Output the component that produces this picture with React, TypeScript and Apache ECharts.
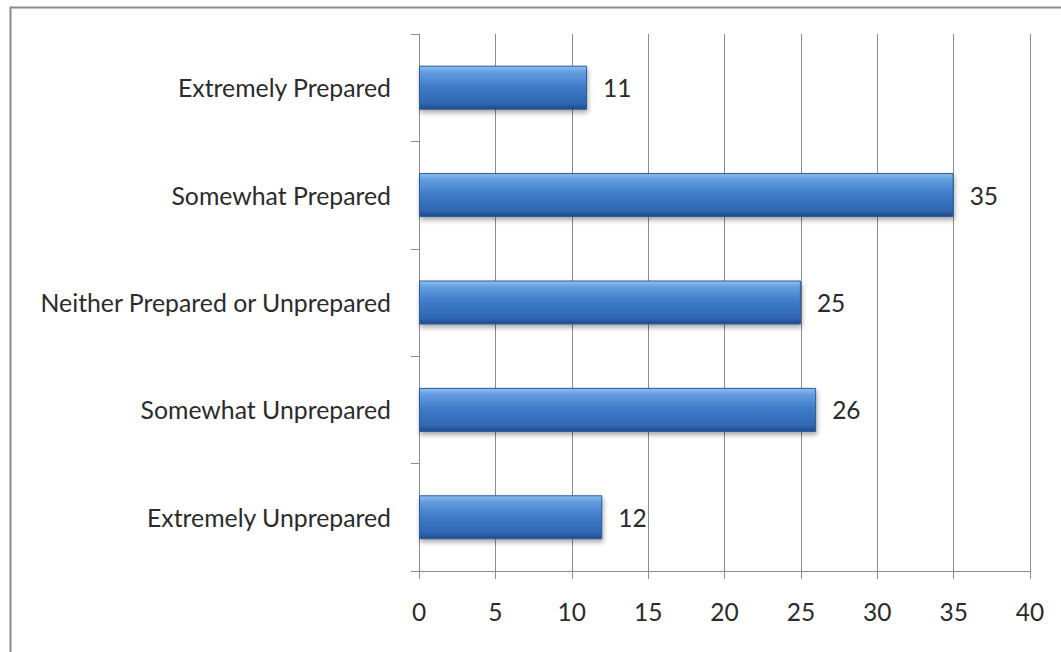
import React, { useEffect, useRef } from "react";
import * as echarts from "echarts";

const categories = [
  "Extremely Prepared",
  "Somewhat Prepared",
  "Neither Prepared or Unprepared",
  "Somewhat Unprepared",
  "Extremely Unprepared",
];
const values = [11, 35, 25, 26, 12];
const xMin = 0;
const xMax = 40;
const xInterval = 5;

const FONT = "Lato, 'Open Sans', sans-serif";

export default function App() {
  const ref = useRef<HTMLDivElement>(null);
  useEffect(() => {
    if (!ref.current) return;
    const chart = echarts.init(ref.current, undefined, { renderer: "svg" });
    chart.setOption({
      animation: false,
      backgroundColor: "#ffffff",
      graphic: [
        {
          type: "rect",
          left: 8,
          top: 5,
          shape: { width: 1100, height: 700 },
          style: { fill: "none", stroke: "#8a8a8a", lineWidth: 2 },
          silent: true,
          z: -1,
        },
      ],
      grid: { left: 419, right: 31, top: 34, bottom: 81 },
      xAxis: {
        type: "value",
        min: xMin,
        max: xMax,
        interval: xInterval,
        axisLine: { show: true, lineStyle: { color: "#8c8c8c", width: 1 } },
        axisTick: { show: true, length: 8, lineStyle: { color: "#8c8c8c" } },
        splitLine: { show: true, lineStyle: { color: "#8c8c8c", width: 1 } },
        axisLabel: {
          fontFamily: FONT,
          fontSize: 24.5,
          color: "#2b2b2b",
          margin: 28,
        },
      },
      yAxis: {
        type: "category",
        data: categories,
        inverse: true,
        axisLine: { show: true, lineStyle: { color: "#8c8c8c", width: 1 } },
        axisTick: { show: true, length: 8, lineStyle: { color: "#8c8c8c" } },
        axisLabel: {
          fontFamily: FONT,
          fontSize: 24.8,
          color: "#2b2b2b",
          margin: 28,
        },
      },
      series: [
        {
          type: "bar",
          data: values,
          barWidth: 44,
          itemStyle: {
            color: new echarts.graphic.LinearGradient(0, 0, 0, 1, [
              { offset: 0, color: "#8fc0f2" },
              { offset: 0.14, color: "#639ddf" },
              { offset: 0.5, color: "#3d79c7" },
              { offset: 0.86, color: "#3068b3" },
              { offset: 1, color: "#1f4a85" },
            ]),
            borderColor: "#2a5a98",
            borderWidth: 1,
            shadowColor: "rgba(0,0,0,0.35)",
            shadowBlur: 5,
            shadowOffsetY: 3,
            shadowOffsetX: 1,
          },
          label: {
            show: true,
            position: "right",
            distance: 16,
            fontFamily: FONT,
            fontSize: 24.5,
            color: "#2b2b2b",
          },
        },
      ],
    });
    return () => chart.dispose();
  }, []);
  return (
    <div
      ref={ref}
      style={{ position: "fixed", left: 0, top: 0, width: 1061, height: 652 }}
    />
  );
}
